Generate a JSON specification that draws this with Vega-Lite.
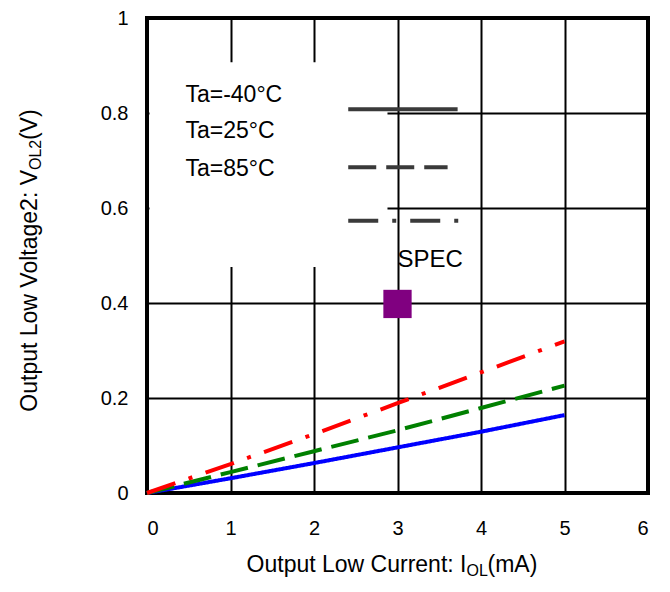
{
  "$schema": "https://vega.github.io/schema/vega-lite/v6.json",
  "width": 501,
  "height": 475,
  "autosize": "none",
  "padding": {"left": 147, "top": 18, "right": 22, "bottom": 99},
  "background": "white",
  "config": {
    "view": {"stroke": "black", "strokeWidth": 4},
    "axis": {
      "grid": true, "gridColor": "black", "gridWidth": 2, "gridOpacity": 1,
      "domain": false, "ticks": false, "title": null, "format": "~g",
      "labelFont": "Liberation Sans", "labelFontSize": 20, "labelColor": "black"
    },
    "text": {"font": "Liberation Sans", "color": "black"}
  },
  "datasets": {
    "curves": [
      {"series": "Ta=-40°C", "i": 0, "v": 0},
      {"series": "Ta=-40°C", "i": 1, "v": 0.031},
      {"series": "Ta=-40°C", "i": 2, "v": 0.063},
      {"series": "Ta=-40°C", "i": 3, "v": 0.096},
      {"series": "Ta=-40°C", "i": 4, "v": 0.129},
      {"series": "Ta=-40°C", "i": 5, "v": 0.164},
      {"series": "Ta=25°C", "i": 0, "v": 0},
      {"series": "Ta=25°C", "i": 1, "v": 0.044},
      {"series": "Ta=25°C", "i": 2, "v": 0.088},
      {"series": "Ta=25°C", "i": 3, "v": 0.132},
      {"series": "Ta=25°C", "i": 4, "v": 0.179},
      {"series": "Ta=25°C", "i": 5, "v": 0.226},
      {"series": "Ta=85°C", "i": 0, "v": 0},
      {"series": "Ta=85°C", "i": 1, "v": 0.061},
      {"series": "Ta=85°C", "i": 2, "v": 0.124},
      {"series": "Ta=85°C", "i": 3, "v": 0.189},
      {"series": "Ta=85°C", "i": 4, "v": 0.254},
      {"series": "Ta=85°C", "i": 5, "v": 0.319}
    ],
    "key": [
      {"series": "Ta=-40°C", "label": "Ta=-40°C", "ly": 0.838, "x1": 2.41, "x2": 3.72, "ky": 0.808},
      {"series": "Ta=25°C", "label": "Ta=25°C", "ly": 0.762, "x1": 2.41, "x2": 3.6, "ky": 0.686},
      {"series": "Ta=85°C", "label": "Ta=85°C", "ly": 0.682, "x1": 2.41, "x2": 3.87, "ky": 0.573}
    ],
    "spec": [{"label": "SPEC", "i": 3, "v": 0.398, "ty": 0.49}],
    "box": [{"x1": 0.03, "x2": 2.88, "y1": 0.476, "y2": 0.907}],
    "tRight": [
      {"part": "Output Low Current: I", "x": 3.826, "y": -0.1663, "size": 23, "angle": 0},
      {"part": "Output Low Voltage2: V", "x": -1.317, "y": 0.68, "size": 23, "angle": 270}
    ],
    "tLeft": [
      {"part": "OL", "x": 3.826, "y": -0.1747, "size": 16, "angle": 0},
      {"part": "(mA)", "x": 4.078, "y": -0.1663, "size": 23, "angle": 0},
      {"part": "OL2", "x": -1.269, "y": 0.68, "size": 16, "angle": 270},
      {"part": "(V)", "x": -1.317, "y": 0.743, "size": 23, "angle": 270}
    ]
  },
  "layer": [
    {
      "data": {"name": "box"},
      "mark": {"type": "rect", "fill": "white"},
      "encoding": {
        "x": {"field": "x1", "type": "quantitative",
              "scale": {"domain": [0, 6], "nice": false, "zero": false},
              "axis": {"values": [0, 1, 2, 3, 4, 5, 6], "labelPadding": 25}},
        "x2": {"field": "x2"},
        "y": {"field": "y1", "type": "quantitative",
              "scale": {"domain": [0, 1], "nice": false, "zero": false},
              "axis": {"values": [0, 0.2, 0.4, 0.6, 0.8, 1], "labelPadding": 19}},
        "y2": {"field": "y2"}
      }
    },
    {
      "data": {"name": "curves"},
      "mark": {"type": "line", "strokeWidth": 4},
      "encoding": {
        "x": {"field": "i", "type": "quantitative"},
        "y": {"field": "v", "type": "quantitative"},
        "color": {"field": "series", "type": "nominal", "legend": null,
                  "scale": {"domain": ["Ta=-40°C", "Ta=25°C", "Ta=85°C"], "range": ["#0000ff", "#008000", "#ff0000"]}},
        "strokeDash": {"field": "series", "type": "nominal", "legend": null,
                  "scale": {"domain": ["Ta=-40°C", "Ta=25°C", "Ta=85°C"], "range": [[1, 0], [28, 10], [30, 14, 4, 14]]}}
      }
    },
    {
      "data": {"name": "key"},
      "mark": {"type": "rule", "strokeWidth": 4, "color": "#3a3a3a"},
      "encoding": {
        "x": {"field": "x1", "type": "quantitative"},
        "x2": {"field": "x2"},
        "y": {"field": "ky", "type": "quantitative"},
        "strokeDash": {"field": "series", "type": "nominal", "legend": null}
      }
    },
    {
      "data": {"name": "key"},
      "mark": {"type": "text", "align": "left", "baseline": "middle", "fontSize": 23},
      "encoding": {
        "x": {"datum": 0.46, "type": "quantitative"},
        "y": {"field": "ly", "type": "quantitative"},
        "text": {"field": "label"}
      }
    },
    {
      "data": {"name": "spec"},
      "mark": {"type": "text", "align": "left", "baseline": "middle", "fontSize": 24},
      "encoding": {
        "x": {"field": "i", "type": "quantitative"},
        "y": {"field": "ty", "type": "quantitative"},
        "text": {"field": "label"}
      }
    },
    {
      "data": {"name": "spec"},
      "mark": {"type": "square", "filled": true, "color": "#800080", "size": 800, "opacity": 1},
      "encoding": {
        "x": {"field": "i", "type": "quantitative"},
        "y": {"field": "v", "type": "quantitative"}
      }
    },
    {
      "data": {"name": "tRight"},
      "mark": {"type": "text", "baseline": "alphabetic", "align": "right"},
      "encoding": {
        "x": {"field": "x", "type": "quantitative"},
        "y": {"field": "y", "type": "quantitative"},
        "text": {"field": "part"},
        "size": {"field": "size", "type": "quantitative", "scale": null},
        "angle": {"field": "angle", "type": "quantitative", "scale": null}
      }
    },
    {
      "data": {"name": "tLeft"},
      "mark": {"type": "text", "baseline": "alphabetic", "align": "left"},
      "encoding": {
        "x": {"field": "x", "type": "quantitative"},
        "y": {"field": "y", "type": "quantitative"},
        "text": {"field": "part"},
        "size": {"field": "size", "type": "quantitative", "scale": null},
        "angle": {"field": "angle", "type": "quantitative", "scale": null}
      }
    }
  ]
}
